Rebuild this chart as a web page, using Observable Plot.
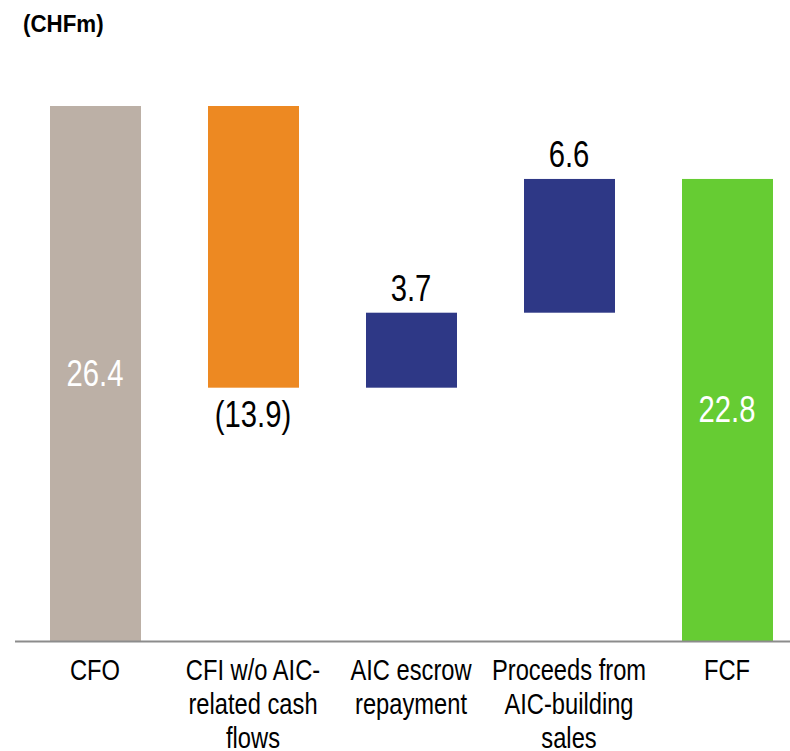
<!DOCTYPE html>
<html><head><meta charset="utf-8">
<script src="https://cdn.jsdelivr.net/npm/d3@7"></script>
<script src="https://cdn.jsdelivr.net/npm/@observablehq/plot@0.6"></script>
<style>
body{margin:0;background:#fff;}
#wrap{position:relative;width:790px;height:751px;}
#title{position:absolute;left:23px;top:12px;font:bold 24px/24px 'Liberation Sans',Arial,sans-serif;color:#000;transform:scaleX(0.93);transform-origin:0 0;white-space:nowrap;}
</style>
</head><body><div id="wrap"><div id="title">(CHFm)</div></div>
<script>
const categories = ["CFO", "CFI", "AIC escrow", "Proceeds", "FCF"];
const tickLabels = ["CFO", "CFI w/o AIC-\nrelated cash\nflows", "AIC escrow\nrepayment", "Proceeds from\nAIC-building\nsales", "FCF"];
const values = [26.4, -13.9, 3.7, 6.6, 22.8];
const kinds = ["total", "delta", "delta", "delta", "total"];
const valueLabels = ["26.4", "(13.9)", "3.7", "6.6", "22.8"];
const colors = ["#bcb0a6", "#ed8922", "#2e3886", "#2e3886", "#66cc33"];

let running = 0;
const rows = categories.map((c, i) => {
  const v = values[i];
  let y1, y2;
  if (kinds[i] === "total") { y1 = 0; y2 = v; running = v; }
  else { y1 = running; y2 = running + v; running += v; }
  return {cat: c, y1, y2, v, kind: kinds[i], label: valueLabels[i], mid: (y1 + y2) / 2};
});

const font = "'Liberation Sans',Arial,sans-serif";
const chart = Plot.plot({
  width: 790,
  height: 751,
  marginTop: 106,
  marginBottom: 110,
  marginLeft: 15,
  marginRight: 0,
  style: {fontFamily: font, background: "#fff", color: "#000"},
  x: {type: "band", domain: categories, range: [15, 808], paddingInner: 0.426, paddingOuter: 0.2145, align: 0.5},
  y: {domain: [0, 26.4], axis: null},
  color: {domain: categories, range: colors},
  marks: [
    Plot.barY(rows, {x: "cat", y1: "y1", y2: "y2", fill: "cat"}),
    Plot.ruleY([0], {stroke: "#8c8c8c", strokeWidth: 2}),
    Plot.text(rows.filter(d => d.kind === "total"), {x: "cat", y: "mid", text: "label", fill: "#fff", fontSize: 37, dx: -1, className: "val"}),
    Plot.text(rows.filter(d => d.kind === "delta" && d.v < 0), {x: "cat", y: "y2", text: "label", fill: "#000", fontSize: 37, lineAnchor: "top", dy: 13, dx: -1, className: "val"}),
    Plot.text(rows.filter(d => d.kind === "delta" && d.v > 0), {x: "cat", y: "y2", text: "label", fill: "#000", fontSize: 37, lineAnchor: "bottom", dy: -12, dx: -1, className: "val"}),
    Plot.axisX({tickSize: 0, tickPadding: 15, fontSize: 30, lineHeight: 1.12, fill: "#000", dx: -1, tickFormat: (d) => tickLabels[categories.indexOf(d)], label: null})
  ]
});
document.getElementById("wrap").appendChild(chart);
chart.style.position = "absolute";
chart.style.left = "0";
chart.style.top = "0";
document.getElementById("title").style.zIndex = 2;

// condense glyphs horizontally to mimic the narrow typeface of the original
function condense(el, k) {
  const len = el.getComputedTextLength();
  if (len > 0) {
    el.setAttribute("textLength", (len * k).toFixed(2));
    el.setAttribute("lengthAdjust", "spacingAndGlyphs");
  }
}
chart.querySelectorAll("text").forEach(t => {
  const k = 0.79;
  const spans = t.querySelectorAll("tspan");
  (spans.length ? Array.from(spans) : [t]).forEach(el => condense(el, k));
});
</script>
</body></html>
